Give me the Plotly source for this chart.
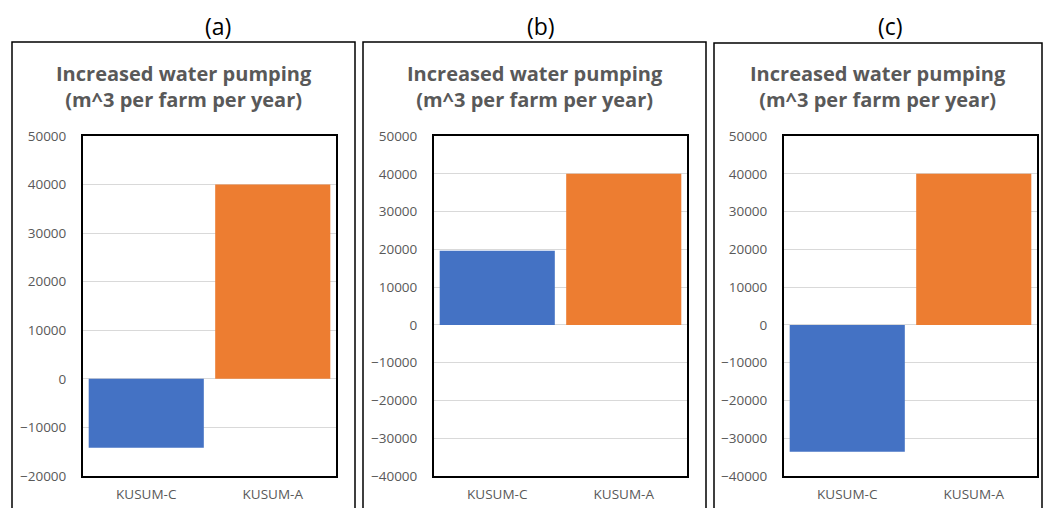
import plotly.graph_objects as go

W, H = 1043, 508

categories = ["KUSUM-C", "KUSUM-A"]
panel_labels = ["(a)", "(b)", "(c)"]
values_a = [-14200, 40000]
values_b = [19600, 40000]
values_c = [-33600, 40000]
y_ranges = [(-20000, 50000), (-40000, 50000), (-40000, 50000)]
bar_colors = ["#4472C4", "#ED7D31"]
chart_title = "Increased water pumping<br>(m^3 per farm per year)"

series = [values_a, values_b, values_c]

# pixel layout of each panel: outer frame, inner plot area, panel label centre
frames = [(12, 355, 42), (363, 706, 42), (714, 1042, 43)]
plot_x = [(83, 336), (434, 687), (784, 1037)]
plot_y = (136, 476)
label_x = [218, 541, 890]

FONT = "Open Sans, Noto Sans, Arial"


def px(x):
    return x / W


def py(y):
    return 1 - y / H


fig = go.Figure()
shapes = []
annotations = []

for i, vals in enumerate(series):
    n = "" if i == 0 else str(i + 1)
    fig.add_trace(go.Bar(
        x=categories, y=vals,
        marker=dict(color=bar_colors, line=dict(width=0)),
        xaxis="x" + n, yaxis="y" + n, showlegend=False,
    ))
    lo, hi = y_ranges[i]
    common_line = dict(showline=True, linecolor="#000000", linewidth=2, mirror=True)
    fig.update_layout(**{
        "xaxis" + n: dict(
            domain=[px(plot_x[i][0]), px(plot_x[i][1])],
            anchor="y" + n, showgrid=False, ticks="", ticklabelstandoff=5,
            automargin=False,
            tickfont=dict(family=FONT, size=13.5, color="#595959"),
            fixedrange=True, **common_line,
        ),
        "yaxis" + n: dict(
            domain=[py(plot_y[1]), py(plot_y[0])],
            anchor="x" + n, range=[lo, hi], dtick=10000, tickformat="d",
            showgrid=True, gridcolor="#D9D9D9", gridwidth=1,
            zeroline=True, zerolinecolor="#D9D9D9", zerolinewidth=1,
            ticks="", ticklabelstandoff=12, automargin=False,
            tickfont=dict(family=FONT, size=13.5, color="#595959"),
            fixedrange=True, **common_line,
        ),
    })

    x0, x1, y0 = frames[i]
    shapes.append(dict(
        type="rect", xref="paper", yref="paper",
        x0=px(x0), x1=px(x1), y0=py(H + 10), y1=py(y0),
        line=dict(color="#000000", width=1.5), fillcolor="rgba(0,0,0,0)",
        layer="below",
    ))
    annotations.append(dict(
        text=panel_labels[i], xref="paper", yref="paper",
        x=px(label_x[i]), y=py(26), xanchor="center", yanchor="middle",
        showarrow=False,
        font=dict(family=FONT, size=23, color="#000000"),
    ))
    annotations.append(dict(
        text="<b>" + chart_title + "</b>", xref="paper", yref="paper",
        x=px((x0 + x1) / 2), y=py(86), xanchor="center", yanchor="middle",
        showarrow=False, align="center",
        font=dict(family=FONT, size=20, color="#595959"),
    ))

fig.update_layout(
    width=W, height=H,
    margin=dict(l=0, r=0, t=0, b=0),
    paper_bgcolor="white", plot_bgcolor="white",
    bargap=0.09,
    shapes=shapes, annotations=annotations,
)

fig.write_html("out.html", config={"displayModeBar": False})
